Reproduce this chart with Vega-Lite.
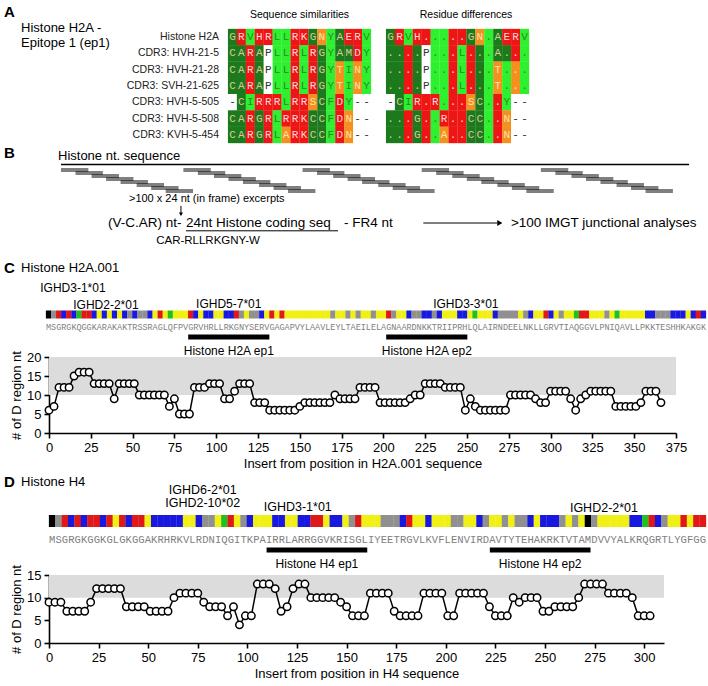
{
"$schema":"https://vega.github.io/schema/vega-lite/v6.json",
"background":"white",
"padding":{"left":3,"top":4,"right":0,"bottom":0},
"autosize":{"type":"pad"},
"bounds":"flush",
"spacing":0,
"resolve":{"scale":{"color":"independent","fill":"independent"}},
"config":{
 "view":{"stroke":null},
 "font":"Liberation Sans",
 "axis":{"grid":false,"domainColor":"#000","domainWidth":1.6,"tickColor":"#000","tickWidth":1.6,"tickSize":5,"labelFont":"Liberation Sans","labelFontSize":13,"labelColor":"#000","labelPadding":3,"titleFont":"Liberation Sans","titleFontSize":13,"titleFontWeight":"normal","titleColor":"#000","titlePadding":3,"labelFlush":false,"labelOverlap":false},
 "title":{"font":"Liberation Sans","fontWeight":"normal","color":"#000"},
 "text":{"font":"Liberation Sans","color":"#000"}
},
"datasets":{
 "rows":[{"r":"Histone H2A","o":0},{"r":"CDR3: HVH-21-5","o":1},{"r":"CDR3: HVH-21-28","o":2},{"r":"CDR3: SVH-21-625","o":3},{"r":"CDR3: HVH-5-505","o":4},{"r":"CDR3: HVH-5-508","o":5},{"r":"CDR3: KVH-5-454","o":6}],
 "hm":[
  {"r":"Histone H2A","c":1,"a":"G","d":"G","k":"d"},{"r":"Histone H2A","c":2,"a":"R","d":"R","k":"r"},{"r":"Histone H2A","c":3,"a":"V","d":"V","k":"g"},{"r":"Histone H2A","c":4,"a":"H","d":"H","k":"r"},{"r":"Histone H2A","c":5,"a":"R","d":".","k":"r"},{"r":"Histone H2A","c":6,"a":"L","d":".","k":"g"},{"r":"Histone H2A","c":7,"a":"L","d":".","k":"g"},{"r":"Histone H2A","c":8,"a":"R","d":".","k":"r"},{"r":"Histone H2A","c":9,"a":"K","d":".","k":"r"},{"r":"Histone H2A","c":10,"a":"G","d":"G","k":"d"},{"r":"Histone H2A","c":11,"a":"N","d":"N","k":"o"},{"r":"Histone H2A","c":12,"a":"Y","d":".","k":"g"},{"r":"Histone H2A","c":13,"a":"A","d":"A","k":"d"},{"r":"Histone H2A","c":14,"a":"E","d":"E","k":"r"},{"r":"Histone H2A","c":15,"a":"R","d":"R","k":"r"},{"r":"Histone H2A","c":16,"a":"V","d":"V","k":"g"},
  {"r":"CDR3: HVH-21-5","c":1,"a":"C","d":".","k":"d"},{"r":"CDR3: HVH-21-5","c":2,"a":"A","d":".","k":"d"},{"r":"CDR3: HVH-21-5","c":3,"a":"R","d":".","k":"r"},{"r":"CDR3: HVH-21-5","c":4,"a":"A","d":".","k":"d"},{"r":"CDR3: HVH-21-5","c":5,"a":"P","d":"P","k":"w"},{"r":"CDR3: HVH-21-5","c":6,"a":"L","d":".","k":"g"},{"r":"CDR3: HVH-21-5","c":7,"a":"L","d":".","k":"g"},{"r":"CDR3: HVH-21-5","c":8,"a":"R","d":".","k":"r"},{"r":"CDR3: HVH-21-5","c":9,"a":"L","d":"L","k":"g"},{"r":"CDR3: HVH-21-5","c":10,"a":"R","d":".","k":"r"},{"r":"CDR3: HVH-21-5","c":11,"a":"G","d":".","k":"d"},{"r":"CDR3: HVH-21-5","c":12,"a":"Y","d":".","k":"g"},{"r":"CDR3: HVH-21-5","c":13,"a":"A","d":"A","k":"d"},{"r":"CDR3: HVH-21-5","c":14,"a":"M","d":".","k":"d"},{"r":"CDR3: HVH-21-5","c":15,"a":"D","d":".","k":"r"},{"r":"CDR3: HVH-21-5","c":16,"a":"Y","d":".","k":"g"},
  {"r":"CDR3: HVH-21-28","c":1,"a":"C","d":".","k":"d"},{"r":"CDR3: HVH-21-28","c":2,"a":"A","d":".","k":"d"},{"r":"CDR3: HVH-21-28","c":3,"a":"R","d":".","k":"r"},{"r":"CDR3: HVH-21-28","c":4,"a":"A","d":".","k":"d"},{"r":"CDR3: HVH-21-28","c":5,"a":"P","d":"P","k":"w"},{"r":"CDR3: HVH-21-28","c":6,"a":"L","d":".","k":"g"},{"r":"CDR3: HVH-21-28","c":7,"a":"L","d":".","k":"g"},{"r":"CDR3: HVH-21-28","c":8,"a":"R","d":".","k":"r"},{"r":"CDR3: HVH-21-28","c":9,"a":"L","d":"L","k":"g"},{"r":"CDR3: HVH-21-28","c":10,"a":"R","d":".","k":"r"},{"r":"CDR3: HVH-21-28","c":11,"a":"G","d":".","k":"d"},{"r":"CDR3: HVH-21-28","c":12,"a":"Y","d":".","k":"g"},{"r":"CDR3: HVH-21-28","c":13,"a":"T","d":"T","k":"o"},{"r":"CDR3: HVH-21-28","c":14,"a":"I","d":".","k":"g"},{"r":"CDR3: HVH-21-28","c":15,"a":"N","d":".","k":"o"},{"r":"CDR3: HVH-21-28","c":16,"a":"Y","d":".","k":"g"},
  {"r":"CDR3: SVH-21-625","c":1,"a":"C","d":".","k":"d"},{"r":"CDR3: SVH-21-625","c":2,"a":"A","d":".","k":"d"},{"r":"CDR3: SVH-21-625","c":3,"a":"R","d":".","k":"r"},{"r":"CDR3: SVH-21-625","c":4,"a":"A","d":".","k":"d"},{"r":"CDR3: SVH-21-625","c":5,"a":"P","d":"P","k":"w"},{"r":"CDR3: SVH-21-625","c":6,"a":"L","d":".","k":"g"},{"r":"CDR3: SVH-21-625","c":7,"a":"L","d":".","k":"g"},{"r":"CDR3: SVH-21-625","c":8,"a":"R","d":".","k":"r"},{"r":"CDR3: SVH-21-625","c":9,"a":"L","d":"L","k":"g"},{"r":"CDR3: SVH-21-625","c":10,"a":"R","d":".","k":"r"},{"r":"CDR3: SVH-21-625","c":11,"a":"G","d":".","k":"d"},{"r":"CDR3: SVH-21-625","c":12,"a":"Y","d":".","k":"g"},{"r":"CDR3: SVH-21-625","c":13,"a":"T","d":"T","k":"o"},{"r":"CDR3: SVH-21-625","c":14,"a":"I","d":".","k":"g"},{"r":"CDR3: SVH-21-625","c":15,"a":"N","d":".","k":"o"},{"r":"CDR3: SVH-21-625","c":16,"a":"Y","d":".","k":"g"},
  {"r":"CDR3: HVH-5-505","c":1,"a":"-","d":"-","k":"w"},{"r":"CDR3: HVH-5-505","c":2,"a":"C","d":"C","k":"d"},{"r":"CDR3: HVH-5-505","c":3,"a":"I","d":"I","k":"g"},{"r":"CDR3: HVH-5-505","c":4,"a":"R","d":"R","k":"r"},{"r":"CDR3: HVH-5-505","c":5,"a":"R","d":".","k":"r"},{"r":"CDR3: HVH-5-505","c":6,"a":"R","d":"R","k":"r"},{"r":"CDR3: HVH-5-505","c":7,"a":"L","d":".","k":"g"},{"r":"CDR3: HVH-5-505","c":8,"a":"R","d":".","k":"r"},{"r":"CDR3: HVH-5-505","c":9,"a":"R","d":".","k":"r"},{"r":"CDR3: HVH-5-505","c":10,"a":"S","d":"S","k":"o"},{"r":"CDR3: HVH-5-505","c":11,"a":"C","d":"C","k":"d"},{"r":"CDR3: HVH-5-505","c":12,"a":"F","d":".","k":"g"},{"r":"CDR3: HVH-5-505","c":13,"a":"D","d":".","k":"r"},{"r":"CDR3: HVH-5-505","c":14,"a":"Y","d":"Y","k":"g"},{"r":"CDR3: HVH-5-505","c":15,"a":"-","d":"-","k":"w"},{"r":"CDR3: HVH-5-505","c":16,"a":"-","d":"-","k":"w"},
  {"r":"CDR3: HVH-5-508","c":1,"a":"C","d":".","k":"d"},{"r":"CDR3: HVH-5-508","c":2,"a":"A","d":".","k":"d"},{"r":"CDR3: HVH-5-508","c":3,"a":"R","d":".","k":"r"},{"r":"CDR3: HVH-5-508","c":4,"a":"G","d":"G","k":"d"},{"r":"CDR3: HVH-5-508","c":5,"a":"R","d":".","k":"r"},{"r":"CDR3: HVH-5-508","c":6,"a":"L","d":".","k":"g"},{"r":"CDR3: HVH-5-508","c":7,"a":"R","d":"R","k":"r"},{"r":"CDR3: HVH-5-508","c":8,"a":"R","d":".","k":"r"},{"r":"CDR3: HVH-5-508","c":9,"a":"K","d":".","k":"r"},{"r":"CDR3: HVH-5-508","c":10,"a":"C","d":"C","k":"d"},{"r":"CDR3: HVH-5-508","c":11,"a":"C","d":"C","k":"d"},{"r":"CDR3: HVH-5-508","c":12,"a":"F","d":".","k":"g"},{"r":"CDR3: HVH-5-508","c":13,"a":"D","d":".","k":"r"},{"r":"CDR3: HVH-5-508","c":14,"a":"N","d":"N","k":"o"},{"r":"CDR3: HVH-5-508","c":15,"a":"-","d":"-","k":"w"},{"r":"CDR3: HVH-5-508","c":16,"a":"-","d":"-","k":"w"},
  {"r":"CDR3: KVH-5-454","c":1,"a":"C","d":".","k":"d"},{"r":"CDR3: KVH-5-454","c":2,"a":"A","d":".","k":"d"},{"r":"CDR3: KVH-5-454","c":3,"a":"R","d":".","k":"r"},{"r":"CDR3: KVH-5-454","c":4,"a":"G","d":"G","k":"d"},{"r":"CDR3: KVH-5-454","c":5,"a":"R","d":".","k":"r"},{"r":"CDR3: KVH-5-454","c":6,"a":"L","d":".","k":"g"},{"r":"CDR3: KVH-5-454","c":7,"a":"A","d":"A","k":"o"},{"r":"CDR3: KVH-5-454","c":8,"a":"R","d":".","k":"r"},{"r":"CDR3: KVH-5-454","c":9,"a":"K","d":".","k":"r"},{"r":"CDR3: KVH-5-454","c":10,"a":"C","d":"C","k":"d"},{"r":"CDR3: KVH-5-454","c":11,"a":"C","d":"C","k":"d"},{"r":"CDR3: KVH-5-454","c":12,"a":"F","d":".","k":"g"},{"r":"CDR3: KVH-5-454","c":13,"a":"D","d":".","k":"r"},{"r":"CDR3: KVH-5-454","c":14,"a":"N","d":"N","k":"o"},{"r":"CDR3: KVH-5-454","c":15,"a":"-","d":"-","k":"w"},{"r":"CDR3: KVH-5-454","c":16,"a":"-","d":"-","k":"w"}
 ],
 "stairs":[
  {"lane":0,"s":0,"e":17},{"lane":1,"s":9,"e":26},{"lane":2,"s":19,"e":36},{"lane":3,"s":28,"e":45},{"lane":4,"s":37,"e":54},{"lane":5,"s":47,"e":64},{"lane":6,"s":56,"e":73},{"lane":7,"s":65,"e":82},
  {"lane":0,"s":76,"e":93},{"lane":1,"s":85,"e":102},{"lane":2,"s":95,"e":112},{"lane":3,"s":104,"e":121},{"lane":4,"s":113,"e":130},{"lane":5,"s":123,"e":140},{"lane":6,"s":132,"e":149},{"lane":7,"s":141,"e":158},
  {"lane":0,"s":150,"e":167},{"lane":1,"s":159,"e":176},{"lane":2,"s":169,"e":186},{"lane":3,"s":178,"e":195},{"lane":4,"s":187,"e":204},{"lane":5,"s":197,"e":214},{"lane":6,"s":206,"e":223},{"lane":7,"s":215,"e":232},
  {"lane":0,"s":224,"e":241},{"lane":1,"s":233,"e":250},{"lane":2,"s":243,"e":260},{"lane":3,"s":252,"e":269},{"lane":4,"s":261,"e":278},{"lane":5,"s":271,"e":288},{"lane":6,"s":280,"e":297},{"lane":7,"s":289,"e":306},
  {"lane":0,"s":298,"e":315},{"lane":1,"s":307,"e":324},{"lane":2,"s":317,"e":334},{"lane":3,"s":326,"e":343},{"lane":4,"s":335,"e":352},{"lane":5,"s":345,"e":362},{"lane":6,"s":354,"e":371},{"lane":7,"s":363,"e":380}
 ],
 "cs":[
  {"i":0,"a":"M"},{"i":1,"a":"S"},{"i":2,"a":"G"},{"i":3,"a":"R"},{"i":4,"a":"G"},{"i":5,"a":"K"},{"i":6,"a":"Q"},{"i":7,"a":"G"},{"i":8,"a":"G"},{"i":9,"a":"K"},
  {"i":10,"a":"A"},{"i":11,"a":"R"},{"i":12,"a":"A"},{"i":13,"a":"K"},{"i":14,"a":"A"},{"i":15,"a":"K"},{"i":16,"a":"T"},{"i":17,"a":"R"},{"i":18,"a":"S"},{"i":19,"a":"S"},
  {"i":20,"a":"R"},{"i":21,"a":"A"},{"i":22,"a":"G"},{"i":23,"a":"L"},{"i":24,"a":"Q"},{"i":25,"a":"F"},{"i":26,"a":"P"},{"i":27,"a":"V"},{"i":28,"a":"G"},{"i":29,"a":"R"},
  {"i":30,"a":"V"},{"i":31,"a":"H"},{"i":32,"a":"R"},{"i":33,"a":"L"},{"i":34,"a":"L"},{"i":35,"a":"R"},{"i":36,"a":"K"},{"i":37,"a":"G"},{"i":38,"a":"N"},{"i":39,"a":"Y"},
  {"i":40,"a":"S"},{"i":41,"a":"E"},{"i":42,"a":"R"},{"i":43,"a":"V"},{"i":44,"a":"G"},{"i":45,"a":"A"},{"i":46,"a":"G"},{"i":47,"a":"A"},{"i":48,"a":"P"},{"i":49,"a":"V"},
  {"i":50,"a":"Y"},{"i":51,"a":"L"},{"i":52,"a":"A"},{"i":53,"a":"A"},{"i":54,"a":"V"},{"i":55,"a":"L"},{"i":56,"a":"E"},{"i":57,"a":"Y"},{"i":58,"a":"L"},{"i":59,"a":"T"},
  {"i":60,"a":"A"},{"i":61,"a":"E"},{"i":62,"a":"I"},{"i":63,"a":"L"},{"i":64,"a":"E"},{"i":65,"a":"L"},{"i":66,"a":"A"},{"i":67,"a":"G"},{"i":68,"a":"N"},{"i":69,"a":"A"},
  {"i":70,"a":"A"},{"i":71,"a":"R"},{"i":72,"a":"D"},{"i":73,"a":"N"},{"i":74,"a":"K"},{"i":75,"a":"K"},{"i":76,"a":"T"},{"i":77,"a":"R"},{"i":78,"a":"I"},{"i":79,"a":"I"},
  {"i":80,"a":"P"},{"i":81,"a":"R"},{"i":82,"a":"H"},{"i":83,"a":"L"},{"i":84,"a":"Q"},{"i":85,"a":"L"},{"i":86,"a":"A"},{"i":87,"a":"I"},{"i":88,"a":"R"},{"i":89,"a":"N"},
  {"i":90,"a":"D"},{"i":91,"a":"E"},{"i":92,"a":"E"},{"i":93,"a":"L"},{"i":94,"a":"N"},{"i":95,"a":"K"},{"i":96,"a":"L"},{"i":97,"a":"L"},{"i":98,"a":"G"},{"i":99,"a":"R"},
  {"i":100,"a":"V"},{"i":101,"a":"T"},{"i":102,"a":"I"},{"i":103,"a":"A"},{"i":104,"a":"Q"},{"i":105,"a":"G"},{"i":106,"a":"G"},{"i":107,"a":"V"},{"i":108,"a":"L"},{"i":109,"a":"P"},
  {"i":110,"a":"N"},{"i":111,"a":"I"},{"i":112,"a":"Q"},{"i":113,"a":"A"},{"i":114,"a":"V"},{"i":115,"a":"L"},{"i":116,"a":"L"},{"i":117,"a":"P"},{"i":118,"a":"K"},{"i":119,"a":"K"},
  {"i":120,"a":"T"},{"i":121,"a":"E"},{"i":122,"a":"S"},{"i":123,"a":"H"},{"i":124,"a":"H"},{"i":125,"a":"K"},{"i":126,"a":"A"},{"i":127,"a":"K"},{"i":128,"a":"G"},{"i":129,"a":"K"}
 ],
 "ds":[
  {"i":0,"a":"M"},{"i":1,"a":"S"},{"i":2,"a":"G"},{"i":3,"a":"R"},{"i":4,"a":"G"},{"i":5,"a":"K"},{"i":6,"a":"G"},{"i":7,"a":"G"},{"i":8,"a":"K"},{"i":9,"a":"G"},
  {"i":10,"a":"L"},{"i":11,"a":"G"},{"i":12,"a":"K"},{"i":13,"a":"G"},{"i":14,"a":"G"},{"i":15,"a":"A"},{"i":16,"a":"K"},{"i":17,"a":"R"},{"i":18,"a":"H"},{"i":19,"a":"R"},
  {"i":20,"a":"K"},{"i":21,"a":"V"},{"i":22,"a":"L"},{"i":23,"a":"R"},{"i":24,"a":"D"},{"i":25,"a":"N"},{"i":26,"a":"I"},{"i":27,"a":"Q"},{"i":28,"a":"G"},{"i":29,"a":"I"},
  {"i":30,"a":"T"},{"i":31,"a":"K"},{"i":32,"a":"P"},{"i":33,"a":"A"},{"i":34,"a":"I"},{"i":35,"a":"R"},{"i":36,"a":"R"},{"i":37,"a":"L"},{"i":38,"a":"A"},{"i":39,"a":"R"},
  {"i":40,"a":"R"},{"i":41,"a":"G"},{"i":42,"a":"G"},{"i":43,"a":"V"},{"i":44,"a":"K"},{"i":45,"a":"R"},{"i":46,"a":"I"},{"i":47,"a":"S"},{"i":48,"a":"G"},{"i":49,"a":"L"},
  {"i":50,"a":"I"},{"i":51,"a":"Y"},{"i":52,"a":"E"},{"i":53,"a":"E"},{"i":54,"a":"T"},{"i":55,"a":"R"},{"i":56,"a":"G"},{"i":57,"a":"V"},{"i":58,"a":"L"},{"i":59,"a":"K"},
  {"i":60,"a":"V"},{"i":61,"a":"F"},{"i":62,"a":"L"},{"i":63,"a":"E"},{"i":64,"a":"N"},{"i":65,"a":"V"},{"i":66,"a":"I"},{"i":67,"a":"R"},{"i":68,"a":"D"},{"i":69,"a":"A"},
  {"i":70,"a":"V"},{"i":71,"a":"T"},{"i":72,"a":"Y"},{"i":73,"a":"T"},{"i":74,"a":"E"},{"i":75,"a":"H"},{"i":76,"a":"A"},{"i":77,"a":"K"},{"i":78,"a":"R"},{"i":79,"a":"K"},
  {"i":80,"a":"T"},{"i":81,"a":"V"},{"i":82,"a":"T"},{"i":83,"a":"A"},{"i":84,"a":"M"},{"i":85,"a":"D"},{"i":86,"a":"V"},{"i":87,"a":"V"},{"i":88,"a":"Y"},{"i":89,"a":"A"},
  {"i":90,"a":"L"},{"i":91,"a":"K"},{"i":92,"a":"R"},{"i":93,"a":"Q"},{"i":94,"a":"G"},{"i":95,"a":"R"},{"i":96,"a":"T"},{"i":97,"a":"L"},{"i":98,"a":"Y"},{"i":99,"a":"G"},
  {"i":100,"a":"F"},{"i":101,"a":"G"},{"i":102,"a":"G"}
 ],
 "cep":[{"ep":"Histone H2A ep1","from":28,"to":43,"mid":35.5},{"ep":"Histone H2A ep2","from":67,"to":82,"mid":74.5}],
 "dep":[{"ep":"Histone H4 ep1","from":34,"to":49,"mid":41.5},{"ep":"Histone H4 ep2","from":69,"to":84,"mid":76.5}],
 "cline":[
  {"pos":0,"n":6},{"pos":3,"n":7},{"pos":6,"n":12},{"pos":9,"n":12},{"pos":12,"n":12},{"pos":15,"n":15},{"pos":18,"n":16},{"pos":21,"n":16},{"pos":24,"n":16},{"pos":27,"n":13},
  {"pos":30,"n":13},{"pos":33,"n":13},{"pos":36,"n":13},{"pos":39,"n":9},{"pos":42,"n":13},{"pos":45,"n":13},{"pos":48,"n":13},{"pos":51,"n":13},{"pos":54,"n":10},{"pos":57,"n":10},
  {"pos":60,"n":10},{"pos":63,"n":10},{"pos":66,"n":10},{"pos":69,"n":10},{"pos":72,"n":7},{"pos":75,"n":9},{"pos":78,"n":5},{"pos":81,"n":5},{"pos":84,"n":5},{"pos":87,"n":12},
  {"pos":90,"n":12},{"pos":93,"n":12},{"pos":96,"n":13},{"pos":99,"n":13},{"pos":102,"n":13},{"pos":105,"n":9},{"pos":108,"n":9},{"pos":111,"n":11},{"pos":114,"n":13},{"pos":117,"n":13},
  {"pos":120,"n":13},{"pos":123,"n":8},{"pos":126,"n":8},{"pos":129,"n":8},{"pos":132,"n":6},{"pos":135,"n":6},{"pos":138,"n":6},{"pos":141,"n":6},{"pos":144,"n":6},{"pos":147,"n":6},
  {"pos":150,"n":7},{"pos":153,"n":8},{"pos":156,"n":8},{"pos":159,"n":8},{"pos":162,"n":8},{"pos":165,"n":8},{"pos":168,"n":8},{"pos":171,"n":10},{"pos":174,"n":9},{"pos":177,"n":9},
  {"pos":180,"n":9},{"pos":183,"n":9},{"pos":186,"n":12},{"pos":189,"n":12},{"pos":192,"n":12},{"pos":195,"n":12},{"pos":198,"n":8},{"pos":201,"n":8},{"pos":204,"n":8},{"pos":207,"n":8},
  {"pos":210,"n":8},{"pos":213,"n":8},{"pos":216,"n":9},{"pos":219,"n":10},{"pos":222,"n":10},{"pos":225,"n":13},{"pos":228,"n":13},{"pos":231,"n":13},{"pos":234,"n":13},{"pos":237,"n":12},
  {"pos":240,"n":12},{"pos":243,"n":12},{"pos":246,"n":12},{"pos":249,"n":6},{"pos":252,"n":9},{"pos":255,"n":7},{"pos":258,"n":6},{"pos":261,"n":6},{"pos":264,"n":6},{"pos":267,"n":6},
  {"pos":270,"n":6},{"pos":273,"n":6},{"pos":276,"n":10},{"pos":279,"n":10},{"pos":282,"n":10},{"pos":285,"n":10},{"pos":288,"n":10},{"pos":291,"n":9},{"pos":294,"n":8},{"pos":297,"n":8},
  {"pos":300,"n":11},{"pos":303,"n":11},{"pos":306,"n":11},{"pos":309,"n":11},{"pos":312,"n":9},{"pos":315,"n":6},{"pos":318,"n":9},{"pos":321,"n":10},{"pos":324,"n":11},{"pos":327,"n":11},
  {"pos":330,"n":11},{"pos":333,"n":11},{"pos":336,"n":11},{"pos":339,"n":7},{"pos":342,"n":7},{"pos":345,"n":7},{"pos":348,"n":7},{"pos":351,"n":7},{"pos":354,"n":8},{"pos":357,"n":11},
  {"pos":360,"n":11},{"pos":363,"n":11},{"pos":366,"n":8}
 ],
 "dline":[
  {"pos":0,"n":9},{"pos":3,"n":9},{"pos":6,"n":9},{"pos":9,"n":7},{"pos":12,"n":7},{"pos":15,"n":7},{"pos":18,"n":7},{"pos":21,"n":9},{"pos":24,"n":12},{"pos":27,"n":12},
  {"pos":30,"n":12},{"pos":33,"n":12},{"pos":36,"n":12},{"pos":39,"n":8},{"pos":42,"n":8},{"pos":45,"n":8},{"pos":48,"n":8},{"pos":51,"n":7},{"pos":54,"n":7},{"pos":57,"n":7},
  {"pos":60,"n":7},{"pos":63,"n":10},{"pos":66,"n":11},{"pos":69,"n":11},{"pos":72,"n":11},{"pos":75,"n":11},{"pos":78,"n":9},{"pos":81,"n":8},{"pos":84,"n":8},{"pos":87,"n":8},
  {"pos":90,"n":6},{"pos":93,"n":8},{"pos":96,"n":4},{"pos":99,"n":6},{"pos":102,"n":6},{"pos":105,"n":13},{"pos":108,"n":13},{"pos":111,"n":13},{"pos":114,"n":12},{"pos":117,"n":7},
  {"pos":120,"n":8},{"pos":123,"n":12},{"pos":126,"n":13},{"pos":129,"n":13},{"pos":132,"n":10},{"pos":135,"n":10},{"pos":138,"n":10},{"pos":141,"n":10},{"pos":144,"n":10},{"pos":147,"n":9},
  {"pos":150,"n":8},{"pos":153,"n":6},{"pos":156,"n":6},{"pos":159,"n":6},{"pos":162,"n":11},{"pos":165,"n":11},{"pos":168,"n":11},{"pos":171,"n":11},{"pos":174,"n":7},{"pos":177,"n":6},
  {"pos":180,"n":6},{"pos":183,"n":6},{"pos":186,"n":6},{"pos":189,"n":11},{"pos":192,"n":11},{"pos":195,"n":11},{"pos":198,"n":11},{"pos":201,"n":6},{"pos":204,"n":6},{"pos":207,"n":11},
  {"pos":210,"n":11},{"pos":213,"n":11},{"pos":216,"n":11},{"pos":219,"n":11},{"pos":222,"n":8},{"pos":225,"n":6},{"pos":228,"n":6},{"pos":231,"n":6},{"pos":234,"n":10},{"pos":237,"n":9},
  {"pos":240,"n":10},{"pos":243,"n":10},{"pos":246,"n":10},{"pos":249,"n":7},{"pos":252,"n":7},{"pos":255,"n":8},{"pos":258,"n":8},{"pos":261,"n":8},{"pos":264,"n":8},{"pos":267,"n":10},
  {"pos":270,"n":13},{"pos":273,"n":13},{"pos":276,"n":13},{"pos":279,"n":13},{"pos":282,"n":11},{"pos":285,"n":11},{"pos":288,"n":11},{"pos":291,"n":11},{"pos":294,"n":10},{"pos":297,"n":6},
  {"pos":300,"n":6},{"pos":303,"n":6}
 ]
},
"vconcat":[
 {"width":660,"height":221,
  "resolve":{"scale":{"x":"independent","y":"independent","color":"independent"}},
  "layer":[
   {"data":{"name":"hm"},"transform":[{"lookup":"r","from":{"data":{"name":"rows"},"key":"r","fields":["o"]}}],"mark":{"type":"tick","orient":"vertical","thickness":9.1,"size":16.6,"opacity":1},"encoding":{"x":{"field":"c","type":"quantitative","scale":{"domain":[-19.52,54.3],"nice":false,"zero":false},"axis":null},"y":{"field":"o","type":"quantitative","scale":{"domain":[-0.5,13.067],"reverse":true,"nice":false,"zero":false},"axis":null},"color":{"field":"k","type":"nominal","scale":{"domain":["d","r","g","o","w"],"range":["#1c7a1c","#ee1515","#2ef02e","#f39020","#ffffff"]},"legend":null}}},
   {"data":{"name":"hm"},"transform":[{"lookup":"r","from":{"data":{"name":"rows"},"key":"r","fields":["o"]}}],"mark":{"type":"text","font":"Liberation Mono","fontSize":11,"baseline":"middle"},"encoding":{"x":{"field":"c","type":"quantitative","scale":{"domain":[-19.52,54.3],"nice":false,"zero":false},"axis":null},"y":{"field":"o","type":"quantitative","scale":{"domain":[-0.5,13.067],"reverse":true,"nice":false,"zero":false},"axis":null},"text":{"field":"a"},"color":{"field":"k","type":"nominal","scale":{"domain":["d","r","g","o","w"],"range":["#d9c99a","#ffd6d6","#2a8c2a","#ffe4a8","#333333"]},"legend":null}}},
   {"data":{"name":"hm"},"transform":[{"lookup":"r","from":{"data":{"name":"rows"},"key":"r","fields":["o"]}}],"mark":{"type":"tick","orient":"vertical","thickness":9.1,"size":16.6,"opacity":1},"encoding":{"x":{"field":"c","type":"quantitative","scale":{"domain":[-37.2,36.63],"nice":false,"zero":false},"axis":null},"y":{"field":"o","type":"quantitative","scale":{"domain":[-0.5,13.067],"reverse":true,"nice":false,"zero":false},"axis":null},"color":{"field":"k","type":"nominal","scale":{"domain":["d","r","g","o","w"],"range":["#1c7a1c","#ee1515","#2ef02e","#f39020","#ffffff"]},"legend":null}}},
   {"data":{"name":"hm"},"transform":[{"lookup":"r","from":{"data":{"name":"rows"},"key":"r","fields":["o"]}}],"mark":{"type":"text","font":"Liberation Mono","fontSize":11,"baseline":"middle"},"encoding":{"x":{"field":"c","type":"quantitative","scale":{"domain":[-37.2,36.63],"nice":false,"zero":false},"axis":null},"y":{"field":"o","type":"quantitative","scale":{"domain":[-0.5,13.067],"reverse":true,"nice":false,"zero":false},"axis":null},"text":{"field":"d"},"color":{"field":"k","type":"nominal","scale":{"domain":["d","r","g","o","w"],"range":["#d9c99a","#ffd6d6","#2a8c2a","#ffe4a8","#333333"]},"legend":null}}},
   {"data":{"name":"rows"},"mark":{"type":"text","align":"right","baseline":"middle","fontSize":10.5,"color":"#222"},"encoding":{"x":{"datum":-0.507,"type":"quantitative","scale":{"domain":[-19.52,54.3],"nice":false,"zero":false},"axis":null},"y":{"field":"o","type":"quantitative","scale":{"domain":[-0.5,13.067],"reverse":true,"nice":false,"zero":false},"axis":null},"text":{"field":"r"}}},
   {"data":{"values":[{}]},"mark":{"type":"text","align":"center","baseline":"middle","fontSize":10.5},"encoding":{"x":{"datum":8.5,"type":"quantitative","scale":{"domain":[-19.52,54.3],"nice":false,"zero":false},"axis":null},"y":{"datum":-1.36,"type":"quantitative","scale":{"domain":[-0.5,13.067],"reverse":true,"nice":false,"zero":false},"axis":null},"text":{"value":"Sequence similarities"}}},
   {"data":{"values":[{}]},"mark":{"type":"text","align":"center","baseline":"middle","fontSize":10.5},"encoding":{"x":{"datum":9.45,"type":"quantitative","scale":{"domain":[-37.2,36.63],"nice":false,"zero":false},"axis":null},"y":{"datum":-1.36,"type":"quantitative","scale":{"domain":[-0.5,13.067],"reverse":true,"nice":false,"zero":false},"axis":null},"text":{"value":"Residue differences"}}},
   {"data":{"values":[{}]},"mark":{"type":"text","align":"left","baseline":"middle","fontSize":15,"fontWeight":"bold"},"encoding":{"x":{"datum":-24.56,"type":"quantitative","scale":{"domain":[-19.52,54.3],"nice":false,"zero":false},"axis":null},"y":{"datum":-1.574,"type":"quantitative","scale":{"domain":[-0.5,13.067],"reverse":true,"nice":false,"zero":false},"axis":null},"text":{"value":"A"}}},
   {"data":{"values":[{}]},"mark":{"type":"text","align":"left","baseline":"middle","fontSize":13},"encoding":{"x":{"datum":-22.65,"type":"quantitative","scale":{"domain":[-19.52,54.3],"nice":false,"zero":false},"axis":null},"y":{"datum":-0.561,"type":"quantitative","scale":{"domain":[-0.5,13.067],"reverse":true,"nice":false,"zero":false},"axis":null},"text":{"value":"Histone H2A -"}}},
   {"data":{"values":[{}]},"mark":{"type":"text","align":"left","baseline":"middle","fontSize":13},"encoding":{"x":{"datum":-22.65,"type":"quantitative","scale":{"domain":[-19.52,54.3],"nice":false,"zero":false},"axis":null},"y":{"datum":0.36,"type":"quantitative","scale":{"domain":[-0.5,13.067],"reverse":true,"nice":false,"zero":false},"axis":null},"text":{"value":"Epitope 1 (ep1)"}}},
   {"data":{"name":"stairs"},"mark":{"type":"rule","color":"#000","strokeWidth":1},"encoding":{"x":{"field":"s","type":"quantitative","scale":{"domain":[-7.45,402.4],"nice":false,"zero":false},"axis":null},"x2":{"field":"e"},"y":{"field":"lane","type":"quantitative","scale":{"domain":[-46.667,27],"reverse":true,"nice":false,"zero":false},"axis":null}}},
   {"data":{"name":"stairs"},"mark":{"type":"rule","color":"#000","strokeWidth":1,"yOffset":2},"encoding":{"x":{"field":"s","type":"quantitative","scale":{"domain":[-7.45,402.4],"nice":false,"zero":false},"axis":null},"x2":{"field":"e"},"y":{"field":"lane","type":"quantitative","scale":{"domain":[-46.667,27],"reverse":true,"nice":false,"zero":false},"axis":null}}},
   {"data":{"values":[{}]},"mark":{"type":"rule","color":"#000","strokeWidth":1.3},"encoding":{"x":{"datum":0,"type":"quantitative","scale":{"domain":[-7.45,402.4],"nice":false,"zero":false},"axis":null},"x2":{"datum":390},"y":{"datum":-1.5,"type":"quantitative","scale":{"domain":[-46.667,27],"reverse":true,"nice":false,"zero":false},"axis":null}}},
   {"data":{"values":[{}]},"mark":{"type":"rule","color":"#000","strokeWidth":1},"encoding":{"x":{"datum":77.6,"type":"quantitative","scale":{"domain":[-7.45,402.4],"nice":false,"zero":false},"axis":null},"x2":{"datum":172},"y":{"datum":20.6,"type":"quantitative","scale":{"domain":[-46.667,27],"reverse":true,"nice":false,"zero":false},"axis":null}}},
   {"data":{"values":[{}]},"mark":{"type":"rule","color":"#000","strokeWidth":1.2},"encoding":{"x":{"datum":225,"type":"quantitative","scale":{"domain":[-7.45,402.4],"nice":false,"zero":false},"axis":null},"x2":{"datum":271},"y":{"datum":18,"type":"quantitative","scale":{"domain":[-46.667,27],"reverse":true,"nice":false,"zero":false},"axis":null}}},
   {"data":{"values":[{}]},"mark":{"type":"point","shape":"triangle-right","filled":true,"color":"#000","size":35,"opacity":1},"encoding":{"x":{"datum":272.5,"type":"quantitative","scale":{"domain":[-7.45,402.4],"nice":false,"zero":false},"axis":null},"y":{"datum":18,"type":"quantitative","scale":{"domain":[-46.667,27],"reverse":true,"nice":false,"zero":false},"axis":null}}},
   {"data":{"values":[{}]},"mark":{"type":"rule","color":"#000","strokeWidth":1},"encoding":{"x":{"datum":74.5,"type":"quantitative","scale":{"domain":[-7.45,402.4],"nice":false,"zero":false},"axis":null},"y":{"datum":12.3,"type":"quantitative","scale":{"domain":[-46.667,27],"reverse":true,"nice":false,"zero":false},"axis":null},"y2":{"datum":15.3}}},
   {"data":{"values":[{}]},"mark":{"type":"point","shape":"triangle-down","filled":true,"color":"#000","size":16,"opacity":1},"encoding":{"x":{"datum":74.5,"type":"quantitative","scale":{"domain":[-7.45,402.4],"nice":false,"zero":false},"axis":null},"y":{"datum":15.1,"type":"quantitative","scale":{"domain":[-46.667,27],"reverse":true,"nice":false,"zero":false},"axis":null}}},
   {"data":{"values":[{}]},"mark":{"type":"text","align":"left","baseline":"middle","fontSize":15,"fontWeight":"bold"},"encoding":{"x":{"datum":-35.4,"type":"quantitative","scale":{"domain":[-7.45,402.4],"nice":false,"zero":false},"axis":null},"y":{"datum":-5.33,"type":"quantitative","scale":{"domain":[-46.667,27],"reverse":true,"nice":false,"zero":false},"axis":null},"text":{"value":"B"}}},
   {"data":{"values":[{}]},"mark":{"type":"text","align":"left","baseline":"middle","fontSize":13},"encoding":{"x":{"datum":-1.86,"type":"quantitative","scale":{"domain":[-7.45,402.4],"nice":false,"zero":false},"axis":null},"y":{"datum":-4.2,"type":"quantitative","scale":{"domain":[-46.667,27],"reverse":true,"nice":false,"zero":false},"axis":null},"text":{"value":"Histone nt. sequence"}}},
   {"data":{"values":[{}]},"mark":{"type":"text","align":"left","baseline":"middle","fontSize":11},"encoding":{"x":{"datum":42.2,"type":"quantitative","scale":{"domain":[-7.45,402.4],"nice":false,"zero":false},"axis":null},"y":{"datum":10.1,"type":"quantitative","scale":{"domain":[-46.667,27],"reverse":true,"nice":false,"zero":false},"axis":null},"text":{"value":">100 x 24 nt (in frame) excerpts"}}},
   {"data":{"values":[{}]},"mark":{"type":"text","align":"left","baseline":"middle","fontSize":13.5},"encoding":{"x":{"datum":29.2,"type":"quantitative","scale":{"domain":[-7.45,402.4],"nice":false,"zero":false},"axis":null},"y":{"datum":18,"type":"quantitative","scale":{"domain":[-46.667,27],"reverse":true,"nice":false,"zero":false},"axis":null},"text":{"value":"(V-C.AR) nt-"}}},
   {"data":{"values":[{}]},"mark":{"type":"text","align":"left","baseline":"middle","fontSize":13.5},"encoding":{"x":{"datum":77.6,"type":"quantitative","scale":{"domain":[-7.45,402.4],"nice":false,"zero":false},"axis":null},"y":{"datum":18,"type":"quantitative","scale":{"domain":[-46.667,27],"reverse":true,"nice":false,"zero":false},"axis":null},"text":{"value":"24nt Histone coding seq"}}},
   {"data":{"values":[{}]},"mark":{"type":"text","align":"left","baseline":"middle","fontSize":13.5},"encoding":{"x":{"datum":175.7,"type":"quantitative","scale":{"domain":[-7.45,402.4],"nice":false,"zero":false},"axis":null},"y":{"datum":18,"type":"quantitative","scale":{"domain":[-46.667,27],"reverse":true,"nice":false,"zero":false},"axis":null},"text":{"value":"- FR4 nt"}}},
   {"data":{"values":[{}]},"mark":{"type":"text","align":"left","baseline":"middle","fontSize":13.5},"encoding":{"x":{"datum":279.4,"type":"quantitative","scale":{"domain":[-7.45,402.4],"nice":false,"zero":false},"axis":null},"y":{"datum":18,"type":"quantitative","scale":{"domain":[-46.667,27],"reverse":true,"nice":false,"zero":false},"axis":null},"text":{"value":">100 IMGT junctional analyses"}}},
   {"data":{"values":[{}]},"mark":{"type":"text","align":"center","baseline":"middle","fontSize":11.5},"encoding":{"x":{"datum":91.3,"type":"quantitative","scale":{"domain":[-7.45,402.4],"nice":false,"zero":false},"axis":null},"y":{"datum":24,"type":"quantitative","scale":{"domain":[-46.667,27],"reverse":true,"nice":false,"zero":false},"axis":null},"text":{"value":"CAR-RLLRKGNY-W"}}}
  ]},
 {"width":627,"height":107,
  "layer":[
   {"data":{"name":"cs"},"mark":{"type":"tick","orient":"vertical","thickness":5.3,"size":8,"opacity":1},"encoding":{"x":{"field":"i","type":"quantitative","scale":{"domain":[0.09,123.59],"nice":false,"zero":false},"axis":null},"y":{"datum":64.5,"type":"quantitative","scale":{"domain":[0,107],"reverse":true,"nice":false,"zero":false},"axis":null},"color":{"field":"a","type":"nominal","legend":null,"scale":{"domain":["A","C","D","E","F","G","H","I","K","L","M","N","P","Q","R","S","T","V","W","Y"],"range":["#f0f014","#20c020","#909090","#909090","#f0f014","#e01818","#1818e0","#f0f014","#1818e0","#f0f014","#000000","#909090","#f0f014","#20c020","#1818e0","#909090","#909090","#f0f014","#f0f014","#f0f014"]}}}},
   {"data":{"name":"cs"},"mark":{"type":"text","font":"Liberation Mono","fontSize":8.5,"color":"#808080","baseline":"middle"},"encoding":{"x":{"field":"i","type":"quantitative","scale":{"domain":[0.09,123.59],"nice":false,"zero":false},"axis":null},"y":{"datum":76.5,"type":"quantitative","scale":{"domain":[0,107],"reverse":true,"nice":false,"zero":false},"axis":null},"text":{"field":"a"}}},
   {"data":{"values":[{}]},"mark":{"type":"text","align":"left","baseline":"middle","fontSize":15,"fontWeight":"bold"},"encoding":{"x":{"datum":-8.77,"type":"quantitative","scale":{"domain":[0.09,123.59],"nice":false,"zero":false},"axis":null},"y":{"datum":18,"type":"quantitative","scale":{"domain":[0,107],"reverse":true,"nice":false,"zero":false},"axis":null},"text":{"value":"C"}}},
   {"data":{"values":[{}]},"mark":{"type":"text","align":"left","baseline":"middle","fontSize":13},"encoding":{"x":{"datum":-5.42,"type":"quantitative","scale":{"domain":[0.09,123.59],"nice":false,"zero":false},"axis":null},"y":{"datum":18,"type":"quantitative","scale":{"domain":[0,107],"reverse":true,"nice":false,"zero":false},"axis":null},"text":{"value":"Histone H2A.001"}}},
   {"data":{"values":[{}]},"mark":{"type":"text","align":"center","baseline":"middle","fontSize":12},"encoding":{"x":{"datum":4.8,"type":"quantitative","scale":{"domain":[0.09,123.59],"nice":false,"zero":false},"axis":null},"y":{"datum":38,"type":"quantitative","scale":{"domain":[0,107],"reverse":true,"nice":false,"zero":false},"axis":null},"text":{"value":"IGHD3-1*01"}}},
   {"data":{"values":[{}]},"mark":{"type":"text","align":"center","baseline":"middle","fontSize":12},"encoding":{"x":{"datum":11.3,"type":"quantitative","scale":{"domain":[0.09,123.59],"nice":false,"zero":false},"axis":null},"y":{"datum":55,"type":"quantitative","scale":{"domain":[0,107],"reverse":true,"nice":false,"zero":false},"axis":null},"text":{"value":"IGHD2-2*01"}}},
   {"data":{"values":[{}]},"mark":{"type":"text","align":"center","baseline":"middle","fontSize":12},"encoding":{"x":{"datum":35.5,"type":"quantitative","scale":{"domain":[0.09,123.59],"nice":false,"zero":false},"axis":null},"y":{"datum":54,"type":"quantitative","scale":{"domain":[0,107],"reverse":true,"nice":false,"zero":false},"axis":null},"text":{"value":"IGHD5-7*01"}}},
   {"data":{"values":[{}]},"mark":{"type":"text","align":"center","baseline":"middle","fontSize":12},"encoding":{"x":{"datum":82.2,"type":"quantitative","scale":{"domain":[0.09,123.59],"nice":false,"zero":false},"axis":null},"y":{"datum":54,"type":"quantitative","scale":{"domain":[0,107],"reverse":true,"nice":false,"zero":false},"axis":null},"text":{"value":"IGHD3-3*01"}}},
   {"data":{"name":"cep"},"mark":{"type":"rule","color":"#000","strokeWidth":5,"strokeCap":"square"},"encoding":{"x":{"field":"from","type":"quantitative","scale":{"domain":[0.09,123.59],"nice":false,"zero":false},"axis":null},"x2":{"field":"to"},"y":{"datum":87,"type":"quantitative","scale":{"domain":[0,107],"reverse":true,"nice":false,"zero":false},"axis":null}}},
   {"data":{"name":"cep"},"mark":{"type":"text","align":"center","baseline":"middle","fontSize":12},"encoding":{"x":{"field":"mid","type":"quantitative","scale":{"domain":[0.09,123.59],"nice":false,"zero":false},"axis":null},"y":{"datum":101,"type":"quantitative","scale":{"domain":[0,107],"reverse":true,"nice":false,"zero":false},"axis":null},"text":{"field":"ep"}}}
  ]},
 {"width":627,"height":76,
  "layer":[
   {"data":{"values":[{}]},"mark":{"type":"rect","color":"#dcdcdc"},"encoding":{"x":{"datum":0,"type":"quantitative","scale":{"domain":[0,375],"nice":false,"zero":false},"axis":{"values":[0,25,50,75,100,125,150,175,200,225,250,275,300,325,350,375],"title":"Insert from position in H2A.001 sequence"}},"x2":{"datum":375},"y":{"datum":10,"type":"quantitative","scale":{"domain":[0,20],"nice":false},"axis":{"values":[0,5,10,15,20],"title":"# of D region nt"}},"y2":{"datum":20}}},
   {"data":{"name":"cline"},"mark":{"type":"line","color":"#000","strokeWidth":1.5},"encoding":{"x":{"field":"pos","type":"quantitative","scale":{"domain":[0,375],"nice":false,"zero":false},"axis":{"values":[0,25,50,75,100,125,150,175,200,225,250,275,300,325,350,375],"title":"Insert from position in H2A.001 sequence"}},"y":{"field":"n","type":"quantitative","scale":{"domain":[0,20],"nice":false},"axis":{"values":[0,5,10,15,20],"title":"# of D region nt"}}}},
   {"data":{"name":"cline"},"mark":{"type":"point","shape":"circle","filled":true,"fill":"white","stroke":"#000","strokeWidth":1.5,"size":55,"opacity":1},"encoding":{"x":{"field":"pos","type":"quantitative","scale":{"domain":[0,375],"nice":false,"zero":false},"axis":{"values":[0,25,50,75,100,125,150,175,200,225,250,275,300,325,350,375],"title":"Insert from position in H2A.001 sequence"}},"y":{"field":"n","type":"quantitative","scale":{"domain":[0,20],"nice":false},"axis":{"values":[0,5,10,15,20],"title":"# of D region nt"}}}}
  ]},
 {"width":615,"height":142,
  "layer":[
   {"data":{"name":"ds"},"mark":{"type":"tick","orient":"vertical","thickness":6.6,"size":12,"opacity":1},"encoding":{"x":{"field":"i","type":"quantitative","scale":{"domain":[-0.5,95.91],"nice":false,"zero":false},"axis":null},"y":{"datum":88,"type":"quantitative","scale":{"domain":[0,142],"reverse":true,"nice":false,"zero":false},"axis":null},"color":{"field":"a","type":"nominal","legend":null,"scale":{"domain":["A","C","D","E","F","G","H","I","K","L","M","N","P","Q","R","S","T","V","W","Y"],"range":["#f0f014","#20c020","#909090","#909090","#f0f014","#e01818","#1818e0","#f0f014","#1818e0","#f0f014","#000000","#909090","#f0f014","#20c020","#1818e0","#909090","#909090","#f0f014","#f0f014","#f0f014"]}}}},
   {"data":{"name":"ds"},"mark":{"type":"text","font":"Liberation Mono","fontSize":10.5,"color":"#808080","baseline":"middle"},"encoding":{"x":{"field":"i","type":"quantitative","scale":{"domain":[-0.5,95.91],"nice":false,"zero":false},"axis":null},"y":{"datum":107,"type":"quantitative","scale":{"domain":[0,142],"reverse":true,"nice":false,"zero":false},"axis":null},"text":{"field":"a"}}},
   {"data":{"values":[{}]},"mark":{"type":"text","align":"left","baseline":"middle","fontSize":15,"fontWeight":"bold"},"encoding":{"x":{"datum":-7.55,"type":"quantitative","scale":{"domain":[-0.5,95.91],"nice":false,"zero":false},"axis":null},"y":{"datum":49,"type":"quantitative","scale":{"domain":[0,142],"reverse":true,"nice":false,"zero":false},"axis":null},"text":{"value":"D"}}},
   {"data":{"values":[{}]},"mark":{"type":"text","align":"left","baseline":"middle","fontSize":13},"encoding":{"x":{"datum":-4.89,"type":"quantitative","scale":{"domain":[-0.5,95.91],"nice":false,"zero":false},"axis":null},"y":{"datum":49,"type":"quantitative","scale":{"domain":[0,142],"reverse":true,"nice":false,"zero":false},"axis":null},"text":{"value":"Histone H4"}}},
   {"data":{"values":[{}]},"mark":{"type":"text","align":"center","baseline":"middle","fontSize":12.5},"encoding":{"x":{"datum":23.6,"type":"quantitative","scale":{"domain":[-0.5,95.91],"nice":false,"zero":false},"axis":null},"y":{"datum":56.5,"type":"quantitative","scale":{"domain":[0,142],"reverse":true,"nice":false,"zero":false},"axis":null},"text":{"value":"IGHD6-2*01"}}},
   {"data":{"values":[{}]},"mark":{"type":"text","align":"center","baseline":"middle","fontSize":12.5},"encoding":{"x":{"datum":23.6,"type":"quantitative","scale":{"domain":[-0.5,95.91],"nice":false,"zero":false},"axis":null},"y":{"datum":70,"type":"quantitative","scale":{"domain":[0,142],"reverse":true,"nice":false,"zero":false},"axis":null},"text":{"value":"IGHD2-10*02"}}},
   {"data":{"values":[{}]},"mark":{"type":"text","align":"center","baseline":"middle","fontSize":12.5},"encoding":{"x":{"datum":38.5,"type":"quantitative","scale":{"domain":[-0.5,95.91],"nice":false,"zero":false},"axis":null},"y":{"datum":74,"type":"quantitative","scale":{"domain":[0,142],"reverse":true,"nice":false,"zero":false},"axis":null},"text":{"value":"IGHD3-1*01"}}},
   {"data":{"values":[{}]},"mark":{"type":"text","align":"center","baseline":"middle","fontSize":12.5},"encoding":{"x":{"datum":86.5,"type":"quantitative","scale":{"domain":[-0.5,95.91],"nice":false,"zero":false},"axis":null},"y":{"datum":75,"type":"quantitative","scale":{"domain":[0,142],"reverse":true,"nice":false,"zero":false},"axis":null},"text":{"value":"IGHD2-2*01"}}},
   {"data":{"name":"dep"},"mark":{"type":"rule","color":"#000","strokeWidth":5,"strokeCap":"square"},"encoding":{"x":{"field":"from","type":"quantitative","scale":{"domain":[-0.5,95.91],"nice":false,"zero":false},"axis":null},"x2":{"field":"to"},"y":{"datum":117,"type":"quantitative","scale":{"domain":[0,142],"reverse":true,"nice":false,"zero":false},"axis":null}}},
   {"data":{"name":"dep"},"mark":{"type":"text","align":"center","baseline":"middle","fontSize":12},"encoding":{"x":{"field":"mid","type":"quantitative","scale":{"domain":[-0.5,95.91],"nice":false,"zero":false},"axis":null},"y":{"datum":131,"type":"quantitative","scale":{"domain":[0,142],"reverse":true,"nice":false,"zero":false},"axis":null},"text":{"field":"ep"}}}
  ]},
 {"width":615,"height":68,
  "layer":[
   {"data":{"values":[{}]},"mark":{"type":"rect","color":"#dcdcdc"},"encoding":{"x":{"datum":0,"type":"quantitative","scale":{"domain":[0,310],"nice":false,"zero":false},"axis":{"values":[0,25,50,75,100,125,150,175,200,225,250,275,300],"title":"Insert from position in H4 sequence"}},"x2":{"datum":310},"y":{"datum":10,"type":"quantitative","scale":{"domain":[0,15],"nice":false},"axis":{"values":[0,5,10,15],"title":"# of D region nt"}},"y2":{"datum":15}}},
   {"data":{"name":"dline"},"mark":{"type":"line","color":"#000","strokeWidth":1.5},"encoding":{"x":{"field":"pos","type":"quantitative","scale":{"domain":[0,310],"nice":false,"zero":false},"axis":{"values":[0,25,50,75,100,125,150,175,200,225,250,275,300],"title":"Insert from position in H4 sequence"}},"y":{"field":"n","type":"quantitative","scale":{"domain":[0,15],"nice":false},"axis":{"values":[0,5,10,15],"title":"# of D region nt"}}}},
   {"data":{"name":"dline"},"mark":{"type":"point","shape":"circle","filled":true,"fill":"white","stroke":"#000","strokeWidth":1.5,"size":55,"opacity":1},"encoding":{"x":{"field":"pos","type":"quantitative","scale":{"domain":[0,310],"nice":false,"zero":false},"axis":{"values":[0,25,50,75,100,125,150,175,200,225,250,275,300],"title":"Insert from position in H4 sequence"}},"y":{"field":"n","type":"quantitative","scale":{"domain":[0,15],"nice":false},"axis":{"values":[0,5,10,15],"title":"# of D region nt"}}}}
  ]}
]
}
